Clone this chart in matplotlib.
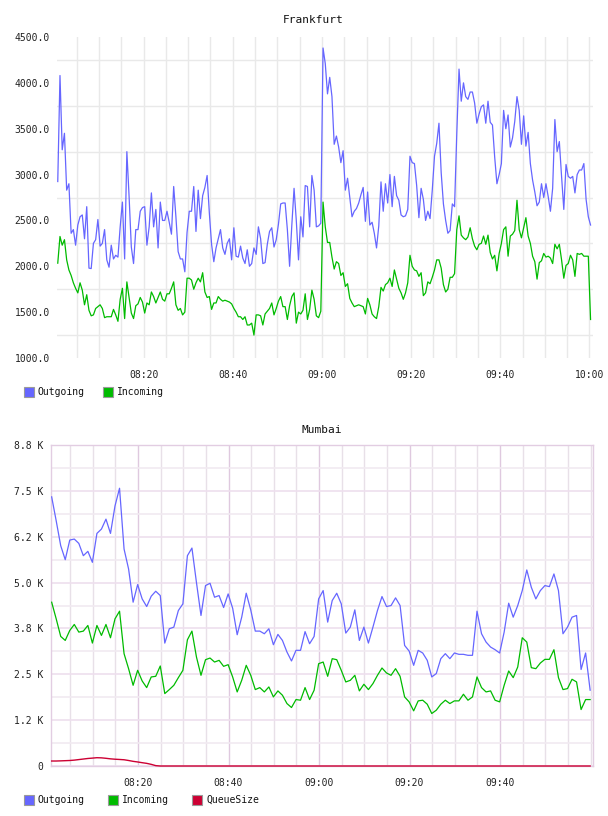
import matplotlib
matplotlib.use("Agg")
import matplotlib.pyplot as plt
from matplotlib.patches import Rectangle
import numpy as np

# ---------------- data ----------------
fra_title = "Frankfurt"
fra_start = "08:00:45"
fra_step_s = 30
fra_outgoing = [
    2924, 4080, 3270, 3450, 2830, 2900, 2360, 2400, 2230, 2450, 2540, 2560, 2300, 2650, 1980,
    1975, 2250, 2290, 2510, 2220, 2250, 2400, 2070, 1990, 2230, 2080, 2120, 2100, 2430, 2700,
    2080, 3250, 2760, 2210, 2030, 2400, 2400, 2600, 2640, 2650, 2230, 2430, 2800, 2430, 2620,
    2200, 2700, 2500, 2500, 2600, 2480, 2350, 2870, 2540, 2160, 2080, 2080, 1940, 2370,
    2600, 2600, 2870, 2380, 2830, 2520, 2770, 2860, 2990, 2580, 2240, 2050, 2200, 2300, 2400,
    2200, 2130, 2250, 2300, 2070, 2420, 2110, 2100, 2220, 2090, 2030, 2180, 2000, 2030, 2200,
    2130, 2430, 2300, 2030, 2040, 2240, 2380, 2420, 2210, 2290, 2460, 2680, 2690, 2690, 2400,
    2000, 2450, 2850, 2500, 2070, 2540, 2320, 2880, 2870, 2430, 2990, 2830, 2430, 2440, 2470,
    4380, 4210, 3880, 4060, 3850, 3330, 3420, 3300, 3130, 3260, 2830, 2960, 2750, 2540, 2600,
    2630, 2690, 2780, 2860, 2490, 2810, 2450, 2480, 2360, 2200, 2440, 2920, 2600, 2900, 2690,
    3000, 2650, 2980, 2770, 2720, 2560, 2540, 2550, 2620, 3200, 3130, 3120, 2880, 2530, 2850,
    2730, 2500, 2600, 2520, 2830, 3200, 3340, 3560, 3020, 2680, 2500, 2360, 2390, 2680, 2650,
    3450, 4150, 3800, 4000, 3850, 3820, 3900, 3900, 3780, 3560, 3660, 3740, 3760, 3560, 3800,
    3570, 3540, 3190, 2900, 3000, 3120, 3700, 3500, 3650, 3300, 3400, 3580, 3850, 3700, 3330,
    3640, 3310, 3460, 3120, 2940, 2810, 2660, 2700, 2900, 2750, 2900, 2760, 2600, 2850, 3600,
    3250, 3360, 2980, 2620, 3110, 2980, 2960, 2980, 2800, 3000, 3050, 3050, 3120, 2730, 2540,
    2450,
]
fra_incoming = [
    2034, 2325, 2230, 2290, 2070, 1960, 1900, 1820, 1760, 1710, 1820, 1740, 1580, 1690, 1520,
    1460, 1470, 1540, 1560, 1580, 1540, 1440, 1450, 1450, 1450, 1530, 1470, 1400, 1640, 1760,
    1430, 1830, 1660, 1490, 1430, 1570, 1590, 1660, 1610, 1490, 1600, 1580, 1720, 1670, 1600,
    1660, 1720, 1640, 1620, 1700, 1700, 1760, 1830, 1580, 1520, 1540, 1470, 1500, 1870,
    1870, 1850, 1750, 1820, 1870, 1830, 1930, 1720, 1660, 1670, 1530, 1600, 1600, 1670, 1640,
    1620, 1630, 1620, 1610, 1590, 1540, 1500, 1450, 1450, 1420, 1450, 1360, 1360, 1380, 1250,
    1470, 1470, 1460, 1360, 1480, 1510, 1540, 1600, 1470, 1540, 1620, 1670, 1560, 1560, 1420,
    1570, 1670, 1710, 1380, 1500, 1480, 1520, 1700, 1420, 1530, 1740, 1640, 1460, 1440, 1510,
    2700, 2430, 2260, 2260, 2100, 1970, 2050, 2030, 1900, 1930, 1780, 1810, 1650, 1600, 1560,
    1570, 1580, 1570, 1560, 1480, 1650, 1580, 1480, 1450, 1430, 1560, 1770, 1730, 1800, 1820,
    1870, 1780, 1960, 1860, 1760, 1710, 1640, 1710, 1820, 2120, 2000, 1960, 1950, 1890, 1930,
    1680, 1710, 1830, 1810, 1880, 1960, 2070, 2070, 1980, 1800, 1720, 1750, 1880, 1880, 1920,
    2400, 2550, 2340, 2310, 2290, 2320, 2420, 2300, 2220, 2180, 2240, 2250, 2330, 2240, 2340,
    2150, 2080, 2120, 1950, 2140, 2250, 2400, 2430, 2110, 2330, 2350, 2390, 2720, 2400, 2310,
    2420, 2530, 2330, 2250, 2110, 2050, 1860, 2040, 2060, 2140, 2100, 2110, 2090, 2030, 2240,
    2190, 2240, 2070, 1870, 2010, 2030, 2120, 2070, 1890, 2140, 2130, 2140, 2110, 2110, 2110,
    1420,
]
fra_yticks = [1000, 1500, 2000, 2500, 3000, 3500, 4000, 4500]
fra_yticklabels = ["1000.0", "1500.0", "2000.0", "2500.0", "3000.0", "3500.0", "4000.0", "4500.0"]
fra_xticklabels = ["08:20", "08:40", "09:00", "09:20", "09:40", "10:00"]

mum_title = "Mumbai"
mum_start = "08:00:55"
mum_step_s = 60
mum_outgoing = [
    7336, 6684, 6005, 5624, 6159, 6186, 6068, 5733, 5851, 5552, 6340, 6458, 6729, 6340, 7091,
    7571, 5914, 5370, 4465, 4945, 4555, 4347, 4628, 4764, 4646, 3350, 3741, 3786, 4238, 4420,
    5733, 5941, 5000, 4103, 4918, 4981, 4601, 4646, 4320, 4691, 4300, 3578, 4057, 4710, 4250,
    3677, 3677, 3605, 3741, 3306, 3587, 3423, 3107, 2863, 3153, 3153, 3663, 3333, 3532, 4555,
    4782, 3922, 4510, 4709, 4420, 3623, 3786, 4257, 3423, 3786, 3351, 3786, 4238, 4619, 4347,
    4374, 4583, 4374, 3287, 3133, 2744, 3153, 3080, 2881, 2428, 2519, 2926, 3062, 2926, 3080,
    3044, 3044, 3017, 3017, 4220, 3605, 3378, 3242, 3170, 3080, 3650, 4438, 4057, 4374, 4782,
    5344, 4872, 4555, 4782, 4918, 4890, 5235, 4782, 3605, 3786, 4057, 4103, 2631, 3080, 2066,
]
mum_incoming = [
    4465, 4012, 3532, 3423, 3695, 3858, 3650, 3677, 3831, 3351, 3831, 3559, 3858, 3496, 4012,
    4220, 3061, 2653, 2200, 2608, 2318, 2137, 2427, 2445, 2726, 1974, 2083, 2200, 2409, 2608,
    3441, 3677, 2970, 2472, 2898, 2943, 2834, 2880, 2717, 2762, 2427, 2019, 2336, 2744, 2472,
    2083, 2137, 2019, 2155, 1883, 2047, 1929, 1702, 1594, 1811, 1793, 2137, 1811, 2065, 2789,
    2834, 2445, 2925, 2898, 2608, 2291, 2336, 2472, 2047, 2228, 2083, 2246, 2472, 2671, 2536,
    2472, 2653, 2445, 1883, 1748, 1503, 1775, 1793, 1684, 1431, 1521, 1684, 1793, 1702, 1775,
    1775, 1956, 1793, 1883, 2427, 2137, 2019, 2047, 1793, 1748, 2200, 2590, 2409, 2699, 3496,
    3378, 2681, 2653, 2807, 2907, 2907, 3170, 2409, 2083, 2110, 2364, 2291, 1539, 1811, 1811,
]
mum_queue = [
    136, 136, 140, 145, 150, 160, 175, 190, 205, 215, 226, 222, 210, 195, 185,
    178, 170, 150, 127, 110, 90, 72, 45, 10, 0, 0, 0, 0, 0, 0,
    0, 0, 0, 0, 0, 0, 0, 0, 0, 0, 0, 0, 0, 0, 0,
    0, 0, 0, 0, 0, 0, 0, 0, 0, 0, 0, 0, 0, 0, 0,
    0, 0, 0, 0, 0, 0, 0, 0, 0, 0, 0, 0, 0, 0, 0,
    0, 0, 0, 0, 0, 0, 0, 0, 0, 0, 0, 0, 0, 0, 0,
    0, 0, 0, 0, 0, 0, 0, 0, 0, 0, 0, 0, 0, 0, 0,
    0, 0, 0, 0, 0, 0, 0, 0, 0, 0, 0, 0, 0, 0, 0,
]
mum_yticks = [0, 1250, 2500, 3750, 5000, 6250, 7500, 8750]
mum_yticklabels = ["0", "1.2 K", "2.5 K", "3.8 K", "5.0 K", "6.2 K", "7.5 K", "8.8 K"]
mum_xticklabels = ["08:20", "08:40", "09:00", "09:20", "09:40"]

series_names = ["Outgoing", "Incoming", "QueueSize"]
series_colors = ["#6666ff", "#00bb00", "#cc0033"]

# ---------------- helpers ----------------
BASE_H = 8  # minutes counted from 08:00


def to_min(s):
    parts = [int(p) for p in s.split(":")]
    h, m = parts[0], parts[1]
    sec = parts[2] if len(parts) > 2 else 0
    return (h - BASE_H) * 60 + m + sec / 60.0


def times(start, step_s, n):
    return to_min(start) + np.arange(n) * step_s / 60.0


W, H = 608, 816
MONO = "DejaVu Sans Mono"
plt.rcParams["font.family"] = [MONO]

fig = plt.figure(figsize=(W / 100, H / 100), dpi=100)


def fx(px):
    return px / W


def fy(py):
    return 1 - py / H


# ---------------- Frankfurt ----------------
ax1 = fig.add_axes([fx(57), fy(358), fx(593) - fx(57), fy(37) - fy(358)])
t1 = times(fra_start, fra_step_s, len(fra_outgoing))
ax1.plot(t1, fra_outgoing, color=series_colors[0], lw=0.9, zorder=3)
ax1.plot(t1, fra_incoming, color=series_colors[1], lw=0.9, zorder=3)
ax1.set_xlim(0.58, 120.8)
ax1.set_ylim(1000, 4500)
ax1.set_yticks(fra_yticks)
ax1.set_yticklabels(fra_yticklabels)
ax1.set_yticks([v + 250 for v in fra_yticks[:-1]], minor=True)
ax1.set_xticks([to_min(s) for s in fra_xticklabels])
ax1.set_xticklabels(fra_xticklabels)
ax1.set_xticks(np.arange(5, 121, 5), minor=True)
ax1.grid(False)
ax1.grid(True, which="minor", axis="both", color="#e9e9e9", lw=1.0, zorder=0)
for v in [to_min(s) for s in fra_xticklabels]:
    ax1.axvline(v, color="#e9e9e9", lw=1.0, zorder=0)
for sp in ax1.spines.values():
    sp.set_visible(False)
ax1.tick_params(which="both", length=0)
ax1.tick_params(axis="y", pad=5, labelsize=7, labelcolor="#222222")
ax1.tick_params(axis="x", pad=8.5, labelsize=7, labelcolor="#222222")
fig.text(fx(313), fy(20), fra_title, ha="center", va="center", fontsize=8, color="#111111")

# ---------------- Mumbai ----------------
ax2 = fig.add_axes([fx(51), fy(766), fx(593) - fx(51), fy(445) - fy(766)])
t2 = times(mum_start, mum_step_s, len(mum_outgoing))
ax2.plot(t2, mum_outgoing, color=series_colors[0], lw=0.9, zorder=3)
ax2.plot(t2, mum_incoming, color=series_colors[1], lw=0.9, zorder=3)
ax2.plot(t2, mum_queue, color=series_colors[2], lw=1.0, zorder=4, clip_on=False)
ax2.set_xlim(0.77, 120.55)
ax2.set_ylim(0, 8750)
ax2.set_yticks(mum_yticks)
ax2.set_yticklabels(mum_yticklabels)
ax2.set_yticks([v + 625 for v in mum_yticks[:-1]], minor=True)
major_x = [to_min(s) for s in mum_xticklabels]
ax2.set_xticks(major_x)
ax2.set_xticklabels(mum_xticklabels)
ax2.set_xticks([v for v in np.arange(5, 121, 5) if v not in major_x], minor=True)
ax2.grid(True, which="major", axis="y", color="#eedfee", lw=1.2, zorder=0)
ax2.grid(True, which="minor", axis="y", color="#f1eaf1", lw=1.2, zorder=0)
ax2.grid(True, which="major", axis="x", color="#dfc9df", lw=1.0, zorder=0)
ax2.grid(True, which="minor", axis="x", color="#e8e0e8", lw=1.0, zorder=0)
for name, sp in ax2.spines.items():
    sp.set_color("#e2cde2")
    sp.set_linewidth(1.0)
ax2.tick_params(which="both", length=0)
ax2.tick_params(axis="y", pad=5.5, labelsize=7, labelcolor="#222222")
ax2.tick_params(axis="x", pad=9, labelsize=7, labelcolor="#222222")
fig.text(fx(322), fy(430), mum_title, ha="center", va="center", fontsize=8, color="#111111")


# ---------------- legends ----------------
def legend_row(xs, y_top, names, colors):
    for x, name, c in zip(xs, names, colors):
        fig.add_artist(Rectangle((fx(x), fy(y_top + 10)), 10 / W, 10 / H,
                                 transform=fig.transFigure, facecolor=c,
                                 edgecolor="#9a9a9a", lw=0.8))
        fig.text(fx(x + 14), fy(y_top + 5), name, ha="left", va="center",
                 fontsize=7, color="#111111")


legend_row([24, 103], 387, series_names[:2], series_colors[:2])
legend_row([24, 108, 192], 795, series_names, series_colors)

fig.savefig("out.png", dpi=100)
